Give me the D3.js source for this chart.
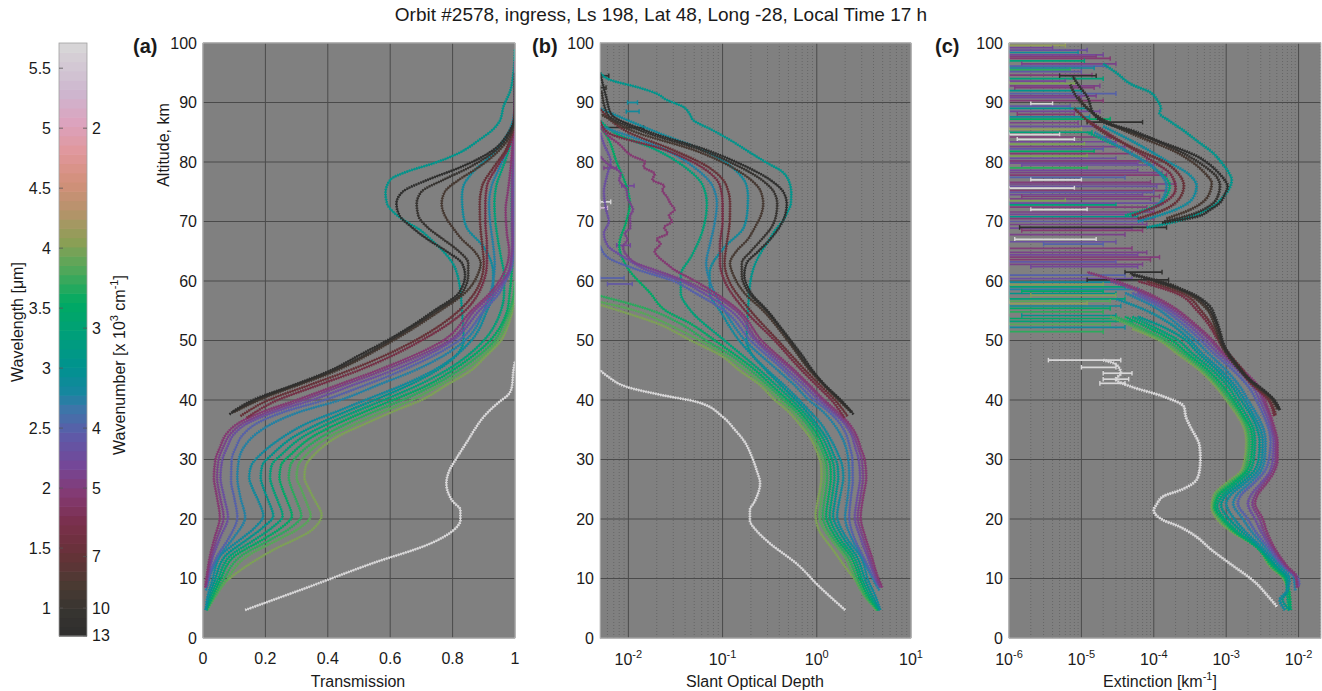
<!DOCTYPE html>
<html><head><meta charset="utf-8">
<script src="https://cdn.jsdelivr.net/npm/d3@7/dist/d3.min.js"></script>
<style>
body{margin:0;background:#fff;}
text{font-family:"Liberation Sans",Arial,Helvetica,sans-serif;fill:#1a1a1a;}
</style>
</head><body>
<svg id="chart" width="1322" height="691"></svg>
<script>
// ---------------- DATA ----------------
const titleText = "Orbit #2578, ingress, Ls 198, Lat 48, Long -28, Local Time 17 h";
const altitudeTicks = [0,10,20,30,40,50,60,70,80,90,100];
const transmissionTicks = [0,0.2,0.4,0.6,0.8,1];
const sodTickExponents = [-2,-1,0,1];
const extinctionTickExponents = [-6,-5,-4,-3,-2];
const wavelengthTicks = [1,1.5,2,2.5,3,3.5,4,4.5,5,5.5];
const wavenumberTicks = [2,3,4,5,7,10,13];

// colormap of the colorbar (wavelength in micron -> colour)
const cmapWavelength = [0.767,1.0,1.2,1.45,1.7,1.95,2.2,2.45,2.65,2.8,3.0,3.3,3.55,3.8,4.05,4.3,4.55,4.8,5.05,5.3,5.71];
const cmapColor = ["#2e2e2e","#383531","#4b3a32","#663238","#792f4a","#843a72","#744799","#5d5ba8","#3f74aa","#17869f","#00928f","#00a078","#00aa62","#4aa85a","#8a9f55","#b4936a","#d2907a","#e0979b","#dca3be","#cdb6cf","#d8d8d8"];

// one wavelength per channel
const wavelength = [0.80,0.95,1.15,1.45,1.65,1.95,2.1,2.3,2.5,2.75,2.85,3.05,3.3,3.5,3.7,3.85,4.0,5.7];

// panel (a): [altitude km, transmission]
const transmission = [
 [[37.6,0.085],[40,0.16],[42.5,0.29],[45,0.41],[47.5,0.5],[50,0.59],[52.5,0.67],[55,0.74],[58,0.82],[61,0.84],[63,0.83],[65,0.78],[67,0.72],[69,0.67],[71,0.63],[73,0.62],[75,0.64],[77,0.72],[79,0.82],[82,0.93],[85,0.98],[88,1.0],[95,1.0]],
 [[38,0.095],[40,0.17],[45,0.42],[50,0.6],[55,0.75],[58,0.83],[61,0.85],[63,0.85],[65,0.82],[67,0.77],[69,0.72],[71,0.69],[73,0.685],[75,0.7],[77,0.77],[79,0.85],[82,0.94],[85,0.985],[88,1.0],[94,1.0]],
 [[38,0.1],[40,0.18],[45,0.43],[50,0.61],[55,0.76],[58,0.84],[61,0.88],[63,0.89],[65,0.87],[67,0.83],[69,0.8],[71,0.775],[73,0.765],[75,0.775],[77,0.82],[79,0.88],[82,0.95],[85,0.99],[88,1.0],[93,1.0]],
 [[37.3,0.12],[40,0.21],[42.5,0.34],[45,0.47],[50,0.68],[55,0.82],[60,0.89],[63,0.9],[66,0.895],[70,0.888],[73,0.887],[76,0.895],[79,0.93],[82,0.97],[85,0.99],[89,1.0]],
 [[37,0.14],[40,0.24],[42.5,0.37],[45,0.5],[50,0.7],[55,0.84],[60,0.9],[63,0.91],[66,0.91],[70,0.905],[73,0.905],[76,0.91],[79,0.94],[82,0.975],[85,0.995],[88,1.0]],
 [[8.5,0.007],[10,0.011],[13.7,0.022],[17,0.038],[20.3,0.054],[23.6,0.045],[27,0.035],[30,0.04],[32,0.054],[34.3,0.075],[36,0.11],[38,0.19],[40,0.3],[42.5,0.43],[45,0.56],[50,0.77],[55,0.86],[58,0.92],[60,0.95],[62,0.97],[65,0.981],[68,0.974],[72,0.97],[75,0.977],[79,0.986],[83,0.992],[86,0.995],[92,1.0],[97,1.0]],
 [[8.5,0.009],[10,0.013],[13.7,0.027],[17,0.046],[20.3,0.066],[23.6,0.055],[27,0.045],[30,0.05],[32,0.064],[34.3,0.088],[36,0.125],[38,0.21],[40,0.32],[42.5,0.45],[45,0.58],[50,0.79],[55,0.87],[58,0.93],[60,0.96],[62,0.982],[64,0.988],[66,0.991],[70,0.99],[73,0.99],[76,0.99],[80,0.994],[84,0.998],[90,1.0]],
 [[8.7,0.01],[10,0.015],[13.7,0.032],[17,0.056],[20.3,0.08],[23.6,0.068],[27,0.056],[30,0.062],[32,0.077],[34.3,0.1],[36,0.14],[38,0.23],[40,0.35],[42.5,0.48],[45,0.61],[50,0.8],[55,0.885],[58,0.94],[60,0.965],[62,0.985],[64,0.991],[66,0.994],[70,0.994],[75,0.994],[80,0.995],[85,0.997],[92,1.0]],
 [[9,0.012],[10,0.017],[13.7,0.045],[17,0.085],[20.3,0.11],[23.6,0.1],[26.4,0.09],[30,0.092],[32,0.105],[34.3,0.13],[36,0.17],[38,0.26],[40,0.39],[42.5,0.52],[45,0.64],[50,0.82],[55,0.9],[58,0.95],[60,0.97],[62,0.988],[64,0.994],[66,0.995],[75,0.995],[85,0.998],[95,1.0]],
 [[8,0.01],[10,0.02],[13.7,0.05],[17,0.1],[20.3,0.135],[23.6,0.12],[27,0.11],[30,0.115],[32,0.13],[34.3,0.17],[36,0.22],[38,0.31],[40,0.44],[42.5,0.56],[45,0.68],[50,0.84],[55,0.9],[60,0.93],[63,0.935],[66,0.93],[70,0.92],[73,0.917],[76,0.925],[79,0.95],[82,0.975],[86,0.995],[90,1.0]],
 [[4.7,0.009],[7,0.015],[9.7,0.03],[13.7,0.054],[16.5,0.118],[18.5,0.165],[20.5,0.193],[23,0.178],[25,0.16],[27,0.148],[29,0.155],[31,0.188],[33.8,0.257],[36,0.33],[38.3,0.44],[40,0.52],[42.5,0.64],[45,0.74],[50,0.86],[55,0.91],[58,0.93],[61.3,0.93],[65.7,0.9],[69,0.845],[72,0.832],[74.2,0.83],[76,0.835],[78,0.86],[81.5,0.93],[85,0.98],[89,1.0]],
 [[4.7,0.009],[7,0.02],[9.7,0.038],[13.7,0.07],[16.5,0.14],[18.5,0.19],[20.5,0.225],[23,0.21],[25,0.195],[27,0.185],[29,0.19],[31,0.225],[33.8,0.29],[36,0.37],[38.3,0.47],[40,0.55],[42.5,0.66],[45,0.75],[48,0.82],[50,0.835],[55,0.83],[60,0.82],[63,0.8],[65,0.77],[67,0.73],[68.6,0.695],[70,0.65],[71.6,0.61],[73,0.59],[74.8,0.585],[77,0.6],[78.5,0.66],[79.8,0.74],[81.5,0.82],[83.7,0.885],[85.5,0.93],[87,0.952],[89.3,0.963],[92,0.985],[95,0.995],[99,1.0]],
 [[4.7,0.01],[7,0.025],[9.7,0.047],[13.7,0.085],[16.5,0.165],[18.5,0.22],[20.5,0.255],[23,0.24],[25,0.225],[27,0.215],[29,0.22],[31,0.255],[33.8,0.32],[36,0.4],[38.3,0.5],[40,0.58],[42.5,0.69],[45,0.78],[50,0.9],[55,0.955],[58,0.965],[61,0.965],[64,0.955],[67,0.945],[70,0.937],[73,0.934],[76,0.94],[79,0.96],[82,0.98],[85,0.993],[88,1.0]],
 [[4.7,0.011],[7,0.03],[9.7,0.055],[13.7,0.1],[16.5,0.19],[18.5,0.25],[20.5,0.285],[23,0.27],[25,0.255],[27,0.245],[29,0.25],[31,0.285],[33.8,0.35],[36,0.43],[38.3,0.53],[40,0.61],[42.5,0.72],[45,0.8],[50,0.92],[55,0.975],[58,0.983],[62,0.99],[66,0.992],[70,0.9905],[73,0.9896],[76,0.9905],[80,0.9925],[84.4,0.994],[88,1.0]],
 [[4.7,0.012],[7,0.035],[9.7,0.065],[13.7,0.12],[16.5,0.215],[18.5,0.28],[20.5,0.315],[23,0.3],[25,0.285],[27,0.275],[29,0.28],[31,0.31],[33.8,0.38],[36,0.46],[38.3,0.56],[40,0.64],[42.5,0.74],[45,0.82],[47.3,0.88],[50,0.935],[52.9,0.965],[55,0.982],[57.5,0.995],[60,1.0]],
 [[4.7,0.013],[7,0.04],[9.7,0.075],[13.7,0.14],[16.5,0.24],[18.5,0.31],[20.5,0.345],[23,0.33],[25,0.315],[27,0.3],[29,0.305],[31,0.335],[33.8,0.405],[36,0.49],[38.3,0.59],[40,0.67],[42.5,0.76],[45,0.84],[47.3,0.895],[50,0.945],[52.9,0.975],[55,0.988],[57,0.995],[60,1.0]],
 [[4.7,0.014],[8,0.044],[11.4,0.12],[14.8,0.225],[18.2,0.35],[20.7,0.38],[23,0.36],[25,0.34],[27,0.325],[29,0.33],[31,0.36],[33.8,0.43],[36,0.52],[38.3,0.62],[40,0.7],[42.5,0.78],[45,0.86],[47.3,0.905],[50,0.955],[52.9,0.98],[55,0.992],[57,0.997],[60,1.0]],
 [[4.7,0.135],[8.6,0.34],[12.5,0.54],[15.9,0.73],[18,0.8],[19.8,0.825],[21.5,0.825],[23,0.8],[26,0.78],[28.2,0.79],[30,0.81],[33.3,0.85],[35,0.87],[37.2,0.9],[39.7,0.95],[40.8,0.977],[42.2,0.99],[45,0.995],[46.5,1.0]]
];

// panel (b): [altitude km, slant optical depth]
const slantOpticalDepth = [
 [[37.6,2.45],[40,1.8],[42.5,1.22],[45,0.9],[47.5,0.7],[50,0.53],[52.5,0.4],[55,0.3],[58,0.2],[61,0.17],[63,0.18],[65,0.24],[67,0.32],[69,0.4],[71,0.46],[73,0.48],[75,0.44],[77,0.32],[79,0.19],[82,0.068],[85,0.017],[88,0.0066],[91,0.0058],[95,0.005]],
 [[38,2.35],[40,1.75],[45,0.87],[50,0.51],[55,0.29],[58,0.19],[61,0.16],[63,0.16],[65,0.2],[67,0.26],[69,0.33],[71,0.37],[73,0.38],[75,0.35],[77,0.26],[79,0.16],[82,0.06],[85,0.015],[88,0.006],[92,0.0052]],
 [[38,2.3],[40,1.7],[45,0.84],[50,0.49],[55,0.27],[58,0.17],[61,0.13],[63,0.12],[65,0.14],[67,0.185],[69,0.22],[71,0.255],[73,0.27],[75,0.255],[77,0.2],[79,0.13],[82,0.05],[85,0.012],[88,0.0052]],
 [[37.3,2.12],[40,1.56],[42.5,1.08],[45,0.755],[50,0.386],[55,0.198],[60,0.117],[63,0.105],[66,0.11],[70,0.119],[73,0.12],[76,0.11],[79,0.073],[82,0.03],[85,0.01],[89,0.005]],
 [[37,1.97],[40,1.43],[42.5,0.99],[45,0.69],[50,0.357],[55,0.174],[60,0.105],[63,0.094],[66,0.094],[70,0.1],[73,0.1],[76,0.094],[79,0.062],[82,0.025],[85,0.006],[87,0.005]],
 [[8.5,4.96],[10,4.51],[13.7,3.82],[17,3.27],[20.3,2.92],[23.6,3.1],[27,3.35],[30,3.22],[32,2.92],[34.3,2.59],[36,2.21],[38,1.66],[40,1.2],[42.5,0.84],[45,0.58],[50,0.26],[55,0.15],[58,0.083],[60,0.051],[62,0.03],[63,0.025],[64,0.021],[65,0.019],[66.3,0.022],[67,0.02],[68,0.026],[69,0.024],[70,0.029],[71,0.027],[72,0.031],[73,0.028],[74,0.026],[75.3,0.023],[76,0.024],[77,0.018],[78,0.019],[79.2,0.0145],[80,0.015],[81,0.011],[83,0.008],[84.5,0.006],[86,0.005]],
 [[8.5,4.71],[10,4.34],[13.7,3.61],[17,3.08],[20.3,2.72],[23.6,2.9],[27,3.1],[30,3.0],[32,2.75],[34.3,2.43],[36,2.08],[38,1.56],[40,1.14],[42.5,0.8],[45,0.545],[50,0.236],[55,0.139],[58,0.073],[60,0.04],[62,0.018],[63,0.012],[64,0.01],[65.8,0.0088],[67,0.0098],[68,0.0092],[69,0.0105],[70.8,0.0104],[72,0.0112],[73,0.0105],[74,0.0098],[75.3,0.0096],[77,0.008],[78,0.0083],[79.8,0.0059],[81,0.005]],
 [[8.7,4.61],[10,4.2],[13.7,3.44],[17,2.88],[20.3,2.53],[23.6,2.69],[27,2.88],[30,2.78],[32,2.56],[34.3,2.3],[36,1.97],[38,1.47],[40,1.05],[42.5,0.73],[45,0.49],[50,0.223],[55,0.122],[58,0.062],[60,0.036],[62,0.015],[64,0.009],[66,0.006],[68,0.0055],[70,0.0062],[72,0.0058],[75,0.0055],[78,0.006],[80,0.0065],[83,0.0055],[85,0.005]],
 [[9,4.42],[10,4.07],[13.7,3.1],[17,2.47],[20.3,2.21],[23.6,2.3],[26.4,2.41],[30,2.39],[32,2.25],[34.3,2.04],[36,1.77],[38,1.35],[40,0.94],[42.5,0.65],[45,0.446],[50,0.198],[55,0.105],[58,0.051],[60,0.03],[62,0.012],[64,0.006],[66,0.005]],
 [[8,4.61],[10,3.91],[13.7,3.0],[17,2.3],[20.3,2.0],[23.6,2.12],[27,2.21],[30,2.16],[32,2.04],[34.3,1.77],[36,1.51],[38,1.17],[40,0.82],[42.5,0.58],[45,0.386],[50,0.174],[55,0.105],[60,0.073],[63,0.067],[66,0.073],[70,0.083],[73,0.087],[76,0.078],[79,0.051],[82,0.025],[86,0.005]],
 [[4.7,4.71],[7,4.2],[9.7,3.51],[13.7,2.92],[16.5,2.14],[18.5,1.8],[20.5,1.645],[23,1.73],[25,1.83],[27,1.91],[29,1.86],[31,1.67],[33.8,1.36],[36,1.11],[38.3,0.82],[40,0.65],[42.5,0.45],[45,0.3],[50,0.15],[55,0.094],[58,0.073],[61.3,0.073],[65.7,0.105],[69,0.168],[72,0.184],[74.2,0.186],[76,0.18],[78,0.15],[81.5,0.073],[85,0.02],[89,0.005]],
 [[4.7,4.71],[7,3.91],[9.7,3.27],[13.7,2.66],[16.5,1.97],[18.5,1.66],[20.5,1.49],[23,1.56],[25,1.63],[27,1.69],[29,1.66],[31,1.49],[33.8,1.24],[36,0.99],[38.3,0.755],[40,0.6],[42.5,0.415],[45,0.29],[48,0.198],[50,0.18],[55,0.186],[60,0.198],[63,0.223],[65,0.26],[67,0.315],[68.6,0.364],[70,0.43],[71.6,0.49],[73,0.53],[74.8,0.536],[77,0.5],[78.5,0.42],[79.8,0.3],[81.5,0.2],[83.7,0.12],[85.5,0.075],[87,0.049],[88,0.045],[89.3,0.038],[90.5,0.025],[91.5,0.02],[92.5,0.013],[93.8,0.0064],[95,0.005]],
 [[4.7,4.61],[7,3.69],[9.7,3.06],[13.7,2.46],[16.5,1.8],[18.5,1.51],[20.5,1.37],[23,1.43],[25,1.49],[27,1.54],[29,1.51],[31,1.37],[33.8,1.14],[36,0.92],[38.3,0.69],[40,0.545],[42.5,0.37],[45,0.25],[50,0.105],[55,0.046],[58,0.036],[61,0.036],[64,0.046],[67,0.057],[70,0.065],[73,0.068],[76,0.062],[79,0.041],[82,0.02],[85,0.007],[87,0.005]],
 [[4.7,4.51],[7,3.51],[9.7,2.9],[13.7,2.3],[16.5,1.66],[18.5,1.39],[20.5,1.255],[23,1.31],[25,1.37],[27,1.41],[29,1.39],[31,1.255],[33.8,1.05],[36,0.84],[38.3,0.635],[40,0.49],[42.5,0.33],[45,0.223],[50,0.083],[52.9,0.045],[55,0.025],[58,0.017],[62,0.01],[66,0.008],[70,0.0095],[73,0.0104],[76,0.0095],[80,0.0075],[84.4,0.0059],[86,0.005]],
 [[4.7,4.42],[7,3.35],[9.7,2.73],[13.7,2.12],[16.5,1.54],[18.5,1.27],[20.5,1.155],[23,1.2],[25,1.255],[27,1.29],[29,1.27],[31,1.17],[33.8,0.97],[36,0.78],[38.3,0.58],[40,0.446],[42.5,0.3],[45,0.198],[47.3,0.128],[50,0.067],[52.9,0.035],[55,0.018],[57.5,0.005]],
 [[4.7,4.34],[7,3.22],[9.7,2.59],[13.7,1.97],[16.5,1.43],[18.5,1.17],[20.5,1.065],[23,1.11],[25,1.155],[27,1.2],[29,1.19],[31,1.09],[33.8,0.9],[36,0.71],[38.3,0.53],[40,0.4],[42.5,0.274],[45,0.174],[47.3,0.111],[50,0.057],[52.9,0.025],[55,0.012],[56.5,0.005]],
 [[4.7,4.27],[8,3.12],[11.4,2.12],[14.8,1.49],[18.2,1.05],[20.7,0.97],[23,1.02],[25,1.08],[27,1.12],[29,1.11],[31,1.02],[33.8,0.84],[36,0.65],[38.3,0.48],[40,0.357],[42.5,0.25],[45,0.15],[47.3,0.1],[50,0.046],[52.9,0.02],[55,0.008],[56,0.005]],
 [[4.7,2.0],[8.6,1.07],[12.5,0.61],[15.9,0.318],[18,0.23],[19.8,0.195],[21.5,0.195],[23,0.22],[26,0.25],[28.2,0.23],[30,0.21],[33.3,0.166],[35,0.135],[37.2,0.1],[39.7,0.053],[40.8,0.023],[42.2,0.0096],[44,0.006],[45,0.005]]
];

// panel (c): [altitude km, extinction km^-1]; null = gap
const extinction = [
 [[38.3,5.5e-3],[40,4.6e-3],[41.5,3.4e-3],[43.4,2.1e-3],[46,1.4e-3],[49,9.5e-4],[52,8e-4],[54,7e-4],[55.7,6e-4],[57,4.5e-4],[58,3.2e-4],[59.6,1.35e-4],[61.3,4.7e-5],null,[69.8,1.3e-4],[70.8,3.9e-4],[72,6e-4],[73.1,8.1e-4],[74.5,9.5e-4],[75.9,1.05e-3],[77,9.5e-4],[78,8.1e-4],[79.5,6e-4],[81,3.9e-4],[82,2.5e-4],[83.2,1.35e-4],[84.3,8e-5],[85.4,4.7e-5],[86.5,2.2e-5],[88,1.5e-5],[91,1.2e-5],[93,9e-6],[94.4,7.6e-6]],
 [[38.5,5.3e-3],[40,4.5e-3],[43.5,2.1e-3],[46,1.35e-3],[49,9.2e-4],[52,7.6e-4],[55.5,5.6e-4],[57,4.2e-4],[58,3e-4],[60,1.2e-4],[61,5e-5],null,[70,1.4e-4],[71,3e-4],[73,6.5e-4],[74.5,7.8e-4],[76,8.2e-4],[77.5,7.4e-4],[79,5.4e-4],[81,3e-4],[83.5,1.1e-4],[86,3e-5],[89,1.2e-5],[93,7e-6]],
 [[38.5,5.1e-3],[40,4.3e-3],[43.5,2e-3],[46,1.3e-3],[49,8.8e-4],[52,7.2e-4],[55.5,5.2e-4],[58,2.8e-4],[60,1e-4],null,[70.5,1.5e-4],[72,3.2e-4],[73.5,5e-4],[75,6e-4],[76.5,6.3e-4],[78,5.2e-4],[80,3.4e-4],[82,1.8e-4],[84,7e-5],[87,2e-5],[91,9e-6]],
 [[37.5,4.8e-3],[40,4e-3],[43,2.2e-3],[45,1.7e-3],[48,1.05e-3],[50,8.2e-4],[53,6e-4],[55,4.5e-4],[58,2.4e-4],[60,8e-5],null,[70.5,6e-5],[72,1.4e-4],[74,2.3e-4],[76,2.6e-4],[78,2.2e-4],[80,1.4e-4],[82,6e-5],[85,2e-5],[89,8e-6]],
 [[37.3,4.6e-3],[40,3.8e-3],[43,2.1e-3],[45,1.6e-3],[48,1e-3],[50,7.8e-4],[53,5.5e-4],[55,4e-4],[58,2e-4],[60,6e-5],null,[71,5e-5],[73,1.3e-4],[75.5,2e-4],[78,1.7e-4],[80,1e-4],[83,4e-5],[87,1.2e-5]],
 [[8.5,9.5e-3],[10.3,9.3e-3],[12,7e-3],[15.4,4.5e-3],[18,3.6e-3],[20,3.2e-3],[22.6,2.5e-3],[24,2.7e-3],[26,3.6e-3],[28,4.6e-3],[30,5.1e-3],[33,5.1e-3],[35,4.7e-3],[37,4.2e-3],[40,3.4e-3],[42,2.9e-3],[45,1.7e-3],[48,9e-4],[50,6.5e-4],[53,3.5e-4],[55.7,1.8e-4],[58,8e-5],[60,3e-5],[61.5,1.2e-5]],
 [[8.5,9.8e-3],[10.3,9.2e-3],[12,6.8e-3],[15.4,4.3e-3],[18,3.3e-3],[20,2.9e-3],[22.6,2.3e-3],[24,2.5e-3],[26,3.3e-3],[28,4.3e-3],[30,4.8e-3],[33,4.8e-3],[35,4.4e-3],[37,4e-3],[40,3.2e-3],[42,2.7e-3],[45,1.6e-3],[48,8.5e-4],[50,6e-4],[53,3.2e-4],[55.7,1.6e-4],[58,7e-5],[60,2.5e-5]],
 [[8.7,1e-2],[10.3,9e-3],[12,6.5e-3],[15.4,4e-3],[18,3e-3],[20,2.5e-3],[22.6,2e-3],[24,2.2e-3],[26,3e-3],[28,4e-3],[30,4.4e-3],[33,4.5e-3],[35,4.2e-3],[37,3.7e-3],[40,2.9e-3],[42,2.4e-3],[45,1.45e-3],[48,7.5e-4],[50,5.2e-4],[53,2.8e-4],[55.7,1.4e-4],[58,6e-5]],
 [[9,1.02e-2],[10.3,9.6e-3],[12,6.3e-3],[15.4,3.7e-3],[18,2.5e-3],[20,2e-3],[22.6,1.45e-3],[24,1.6e-3],[26,2.4e-3],[28,3.4e-3],[30,3.9e-3],[33,4.1e-3],[35,3.9e-3],[37,3.4e-3],[40,2.6e-3],[42,2.1e-3],[45,1.25e-3],[48,6.5e-4],[50,4.5e-4],[53,2.4e-4],[55.7,1.2e-4],[58,5e-5]],
 [[8,9e-3],[10.3,8.5e-3],[12,6e-3],[15.4,3.4e-3],[18,2.2e-3],[20,1.7e-3],[22.6,1.25e-3],[24,1.4e-3],[26,2.1e-3],[28,3e-3],[30,3.4e-3],[33,3.5e-3],[35,3.3e-3],[37,2.8e-3],[40,2e-3],[42,1.6e-3],[45,1e-3],[48,5.5e-4],[50,3.8e-4],[53,2e-4],[55.7,1e-4],[58,4e-5],null,[71,5e-5],[73,1.2e-4],[76,1.5e-4],[79,1e-4],[82,4e-5],[85,1.5e-5]],
 [[4.7,6.5e-3],[6.4,5.5e-3],[8,7e-3],[10,7.5e-3],[12,5.5e-3],[15.4,3e-3],[18,1.8e-3],[20,1.3e-3],[22.6,1e-3],[24,1.15e-3],[26,1.8e-3],[28,2.7e-3],[30,3.1e-3],[33,3.2e-3],[35,3e-3],[37,2.5e-3],[40,1.8e-3],[42,1.4e-3],[45,8.5e-4],[48,4.5e-4],[50,3.2e-4],[53,1.6e-4],[55,8e-5],[57,3e-5],null,[70,6e-5],[72,2e-4],[74,3.5e-4],[76,3.9e-4],[78,3e-4],[80,1.6e-4],[83,6e-5],[86,2e-5]],
 [[4.7,7.5e-3],[6.5,6e-3],[8,7e-3],[10,7e-3],[12,5e-3],[15.4,2.8e-3],[18,1.6e-3],[20,1.1e-3],[22.3,8.5e-4],[24,1e-3],[26,1.6e-3],[28,2.4e-3],[30,2.8e-3],[33,2.9e-3],[35,2.7e-3],[37,2.3e-3],[40,1.6e-3],[42,1.25e-3],[45,7.5e-4],[48,4e-4],[50,2.8e-4],[52,1.5e-4],[54,6e-5],null,[69,8e-5],[70,2e-4],[70.8,3.2e-4],[72.5,6.5e-4],[74.2,9.2e-4],[75.5,1.1e-3],[77,1.19e-3],[78.5,1.05e-3],[80,8.5e-4],[81.5,6.6e-4],[83.5,4e-4],[85.4,2.5e-4],[87,1.6e-4],[88.2,1.2e-4],[89,1.25e-4],[90.5,1.1e-4],[91.7,9e-5],[93,5e-5],[94.9,3.1e-5],[96.5,2e-5]],
 [[4.7,7.5e-3],[7,7e-3],[10,6.8e-3],[12,4.8e-3],[15.4,2.6e-3],[18,1.4e-3],[20,9.5e-4],[22.2,7.5e-4],[24,9e-4],[26,1.4e-3],[28,2.1e-3],[30,2.4e-3],[33,2.5e-3],[35,2.4e-3],[37,2e-3],[40,1.4e-3],[42,1.1e-3],[45,6.5e-4],[48,3.3e-4],[50,2.2e-4],[52,1.1e-4],[54,5e-5],null,[71,4e-5],[73,1.2e-4],[76,1.66e-4],[79,1e-4],[82,4e-5],[85,1.2e-5]],
 [[4.7,7.8e-3],[7,7.5e-3],[10,6.6e-3],[12,4.5e-3],[15.4,2.6e-3],[18,1.3e-3],[20,9e-4],[22,7e-4],[24,8e-4],[26,1.25e-3],[28,1.9e-3],[30,2.2e-3],[33,2.3e-3],[35,2.2e-3],[37,1.8e-3],[40,1.25e-3],[42,9.5e-4],[45,5.6e-4],[48,2.8e-4],[50,1.8e-4],[52,9e-5],[54,4e-5]],
 [[4.7,7.5e-3],[7,7.5e-3],[10,6.4e-3],[12,4.3e-3],[15.4,2.6e-3],[18,1.25e-3],[20,8.5e-4],[22,6.8e-4],[24,7.5e-4],[26,1.15e-3],[28,1.8e-3],[30,2e-3],[33,2.1e-3],[35,2e-3],[37,1.7e-3],[40,1.15e-3],[42,8.5e-4],[45,5e-4],[48,2.5e-4],[50,1.5e-4],[52,7e-5],[54,3e-5]],
 [[4.7,7e-3],[7,7.5e-3],[10,6.3e-3],[12,4.2e-3],[15.4,2.6e-3],[18,1.2e-3],[20,8e-4],[22,6.6e-4],[24,7e-4],[26,1.05e-3],[28,1.7e-3],[30,1.9e-3],[33,2e-3],[35,1.9e-3],[37,1.6e-3],[40,1.05e-3],[42,8e-4],[45,4.6e-4],[48,2.2e-4],[50,1.3e-4],[52,6e-5],[54,2.5e-5]],
 [[4.7,7e-3],[7,7.2e-3],[10,6.2e-3],[12,4.1e-3],[15.4,2.6e-3],[18,1.15e-3],[20,7.5e-4],[22,6.3e-4],[24,6.8e-4],[26,1e-3],[28,1.6e-3],[30,1.8e-3],[33,1.9e-3],[35,1.8e-3],[37,1.5e-3],[40,1e-3],[42,7.5e-4],[45,4.3e-4],[48,2e-4],[50,1.2e-4],[52,5e-5]],
 [[5.3,5e-3],[7,3.8e-3],[9.2,2.6e-3],[12.6,1.1e-3],[15,6e-4],[17,3.9e-4],[19,2e-4],[19.8,1.35e-4],[21.5,1e-4],[22.5,1.1e-4],[23.8,1.35e-4],[25,2.5e-4],[26.6,3.9e-4],[28.3,4.3e-4],[30,4.4e-4],[32.2,4.3e-4],[35.5,3.2e-4],[37,2.8e-4],[38.9,2.6e-4],[40.6,1.35e-4],[42.2,5e-5],[43.5,3e-5],[44.5,3.5e-5],[46,3e-5],[46.7,2e-5]]
];

// noisy horizontal error bars: [altitude, low, high, wavelength]
const errorBarsB = [
 [85.8,0.005,0.0145,0.8],[94.5,0.005,0.0062,0.8],[92.5,0.005,0.0058,0.95],[73.3,0.005,0.0065,5.7],[72.3,0.005,0.006,5.3],[88.5,0.0095,0.013,2.85],[90,0.0098,0.0125,2.85],[60.5,0.005,0.009,2.5],[59.5,0.006,0.011,2.4],[79,0.0055,0.0075,2.1],[76,0.0085,0.0115,2.2],[66,0.0075,0.0105,2.2]
];
const errorBarsC = [
 [99.6,1e-6,6e-6,4.1],[99.2,1e-6,4e-6,2.2],[98.8,1e-6,1.2e-5,2.3],[98.4,1e-6,9e-6,2.85],[98.0,1e-6,2e-5,2.2],[97.7,1e-6,1.6e-5,2.0],[97.4,1e-6,2.5e-5,1.95],[97.0,1e-6,1.1e-5,3.3],[96.5,1.5e-6,3e-5,2.1],[96.1,1e-6,2.2e-5,2.5],[95.8,1e-6,1.5e-5,2.85],[95.5,1e-6,7e-6,3.7],[95.2,1e-6,1e-5,2.4],[94.6,1e-6,1.4e-5,2.0],[94.0,1e-6,2e-5,3.3],[93.6,1e-6,6e-6,2.2],[93.2,1e-6,8e-6,4.0],[92.8,1e-6,1.8e-5,2.1],[92.5,1.2e-6,1.5e-5,2.0],[92.0,1e-6,1e-5,3.05],[91.5,1e-6,3e-5,2.5],[91.1,1e-6,1.6e-5,2.1],[90.8,1e-6,1e-5,2.2],[90.3,1e-6,2e-5,1.95],[89.8,2e-6,4e-6,5.7],[89.4,1e-6,7e-6,2.4],[89.0,1e-6,1.2e-5,3.0],[88.5,1e-6,1.8e-5,2.2],[88.0,1.3e-6,8e-6,1.95],[87.6,1e-6,1.3e-5,2.85],[87.2,1e-6,2.5e-5,3.5],[86.6,1e-6,9e-6,2.1],[86.0,1e-6,1.6e-5,2.3],[85.5,1e-6,1e-5,4.1],[85.0,1e-6,1.4e-5,3.3],[84.6,1e-6,5e-6,5.7],[84.2,1e-6,2.5e-5,2.0],[83.8,1.3e-6,8e-6,5.7],[83.4,1e-6,3e-5,2.2],[83.0,1e-6,1.1e-5,4.0],[82.6,1e-6,4e-5,2.1],[82.2,1e-6,2e-5,2.4],[81.8,1e-6,1.5e-5,3.5],[81.4,1e-6,5e-5,1.95],[81.0,1e-6,1.2e-5,4.0],[80.6,1e-6,3e-5,2.3],[80.2,1e-6,8e-5,2.0],[79.8,1e-6,6e-5,2.2],[79.5,1.5e-6,1e-4,2.3],[79.0,1e-6,1.2e-5,3.7],[78.6,1e-6,6e-5,2.2],[78.2,1e-6,1.3e-4,2.1],[77.8,1e-6,1.5e-4,1.95],[77.4,1e-6,4e-5,2.5],[77.0,2e-6,1e-5,5.7],[76.6,1e-6,9e-5,2.0],[76.3,1e-6,2e-4,2.1],[75.9,1e-6,1.1e-4,2.3],[75.6,1e-6,8e-6,5.7],[75.2,1e-6,1.5e-4,1.95],[74.9,1e-6,1e-4,2.4],[74.5,1e-6,7e-5,2.2],[74.2,1.5e-6,1.2e-4,2.0],[73.8,1e-6,9e-5,2.1],[73.5,1e-6,6e-6,4.0],[73.1,1e-6,1.3e-4,2.3],[72.8,1e-6,3e-5,3.3],[72.4,1e-6,8e-5,2.0],[72.0,2e-6,1.2e-5,5.7],[71.6,1e-6,1e-4,2.1],[71.2,1e-6,5e-5,2.2],[70.8,1e-6,6e-5,3.05],[70.5,1e-6,1e-4,2.0],[70.0,1e-6,7e-5,2.4],[69.5,1e-6,8e-5,2.1],[68.9,1e-6,5e-5,2.2],[68.5,1.5e-6,7e-5,1.95],[67.8,1e-6,4e-5,2.1],[67.0,1.2e-6,1.6e-5,5.7],[66.6,1e-6,3e-5,2.3],[66.2,3e-6,2e-5,2.5],[65.5,1e-6,5e-5,2.0],[64.8,1e-6,8e-5,2.1],[64.4,1e-6,6e-5,2.2],[64.0,1e-6,1.2e-4,2.0],[63.6,1e-6,9e-5,1.95],[63.2,1e-6,3e-5,2.4],[62.8,1e-6,7e-5,2.1],[62.4,2e-6,6e-5,2.2],[61.0,1e-6,4e-5,2.5],[60.4,1e-6,5e-5,2.3],[59.8,1e-6,3e-5,2.85],[59.4,1e-6,2e-5,4.0],[59.0,1e-6,4e-5,3.3],[58.6,1e-6,6e-5,2.75],[58.3,1.5e-6,2e-5,3.5],[57.9,1e-6,3e-5,3.05],[57.6,2e-6,3e-5,4.0],[57.0,1e-6,4e-5,3.3],[56.6,1e-6,2.5e-5,3.85],[56.2,1e-6,1.2e-5,4.1],[55.8,1e-6,3.5e-5,2.85],[55.4,1e-6,2.5e-5,3.5],[54.8,1e-6,2e-5,3.7],[54.2,1.5e-6,3e-5,3.05],[53.7,1e-6,3e-5,3.5],[53.2,1e-6,5e-5,3.3],[52.7,1e-6,2.5e-5,3.85],[52.2,1e-6,4e-5,2.85],[51.5,1e-6,2e-5,3.7],
 [46.7,3.5e-6,3.5e-5,5.7],[45.5,1e-5,3e-5,5.7],[44.5,2e-5,5e-5,5.7],[43.5,2e-5,4.5e-5,5.7],[42.8,1.8e-5,4e-5,5.7],
 [69.0,1.4e-6,1.5e-4,0.8],[60.2,1.2e-5,1.6e-4,0.8],[61.5,4e-5,1.3e-4,0.8],[86.7,1.2e-5,7e-5,0.8],[94.5,5e-6,1.6e-5,0.8]
];

// ---------------- DRAWING ----------------
const svg = d3.select("#chart");
const color = d3.scaleLinear().domain(cmapWavelength).range(cmapColor).interpolate(d3.interpolateRgb).clamp(true);
const y = d3.scaleLinear().domain([0,100]).range([638,43]);
const FS = 16;

svg.append("text").attr("x",661).attr("y",21).attr("text-anchor","middle").style("font-size","19px").text(titleText);

const panels = [
 {id:"a", x: d3.scaleLinear().domain([0,1]).range([203,515]), data: transmission, bars: [], label:"(a)", lx:133, log:false},
 {id:"b", x: d3.scaleLog().domain([0.005,10]).range([600,911]), data: slantOpticalDepth, bars: errorBarsB, label:"(b)", lx:532, log:true},
 {id:"c", x: d3.scaleLog().domain([1e-6,0.0204]).range([1009,1321]), data: extinction, bars: errorBarsC, label:"(c)", lx:935, log:true}
];

panels.forEach(p => {
  const [x0,x1] = p.x.range();
  const g = svg.append("g");
  g.append("rect").attr("x",x0).attr("y",y(100)).attr("width",x1-x0).attr("height",y(0)-y(100)).attr("fill","#808080");
  g.append("clipPath").attr("id","clip"+p.id).append("rect").attr("x",x0).attr("y",y(100)).attr("width",x1-x0).attr("height",y(0)-y(100));
  if (p.log) {
    const [d0,d1] = p.x.domain();
    const minors = [];
    for (let e = Math.floor(Math.log10(d0)); e <= Math.ceil(Math.log10(d1)); e++) {
      for (let m = 2; m <= 9; m++) { const v = m*Math.pow(10,e); if (v > d0 && v < d1) minors.push(v); }
    }
    g.selectAll(".minor").data(minors).join("line")
      .attr("x1",d=>p.x(d)).attr("x2",d=>p.x(d)).attr("y1",y(100)).attr("y2",y(0))
      .attr("stroke","#606060").attr("stroke-width",0.8).attr("stroke-dasharray","1,2");
  }
  const majors = p.log ? (p.id==="b" ? sodTickExponents : extinctionTickExponents).map(e=>Math.pow(10,e)) : transmissionTicks;
  g.selectAll(".vmaj").data(majors).join("line")
    .attr("x1",d=>p.x(d)).attr("x2",d=>p.x(d)).attr("y1",y(100)).attr("y2",y(0))
    .attr("stroke","#4a4a4a").attr("stroke-width",1);
  g.selectAll(".hmaj").data(altitudeTicks).join("line")
    .attr("x1",x0).attr("x2",x1).attr("y1",d=>y(d)).attr("y2",d=>y(d))
    .attr("stroke","#4a4a4a").attr("stroke-width",1);

  const plot = g.append("g").attr("clip-path","url(#clip"+p.id+")");
  const lo = p.x.domain()[0];
  const line = d3.line().defined(d => d !== null)
     .x(d => p.x(Math.max(d[1], lo*0.9)))
     .y(d => y(d[0])).curve(d3.curveMonotoneY);
  // error bars
  plot.selectAll(".eb").data(p.bars).join("g").each(function(b){
    const s = d3.select(this);
    const c = color(b[3]);
    const xa = p.x(Math.max(b[1],lo)), xb = p.x(b[2]), yy = y(b[0]);
    s.append("line").attr("x1",xa).attr("x2",xb).attr("y1",yy).attr("y2",yy).attr("stroke",c).attr("stroke-width",1.7);
    [xa,xb].forEach(xx => s.append("line").attr("x1",xx).attr("x2",xx).attr("y1",yy-2.3).attr("y2",yy+2.3).attr("stroke",c).attr("stroke-width",1.4));
  });
  const order = d3.range(p.data.length).reverse();
  order.forEach(i => {
    const c = color(wavelength[i]);
    plot.append("path").datum(p.data[i]).attr("d", line)
      .attr("fill","none").attr("stroke", c).attr("stroke-width", 1.3);
    plot.append("path").datum(p.data[i]).attr("d", line)
      .attr("fill","none").attr("stroke", c)
      .attr("stroke-width", p.id==="c" ? 3.2 : 2.8)
      .attr("stroke-dasharray", "1.3,1.2");
  });

  g.append("rect").attr("x",x0).attr("y",y(100)).attr("width",x1-x0).attr("height",y(0)-y(100))
   .attr("fill","none").attr("stroke","#c8c8c8").attr("stroke-width",1);

  g.selectAll(".yl").data(altitudeTicks).join("text")
   .attr("x",x0-6).attr("y",d=>y(d)).attr("dy","0.36em").attr("text-anchor","end").style("font-size",FS+"px").text(d=>d);
  if (!p.log) {
    g.selectAll(".xl").data(transmissionTicks).join("text")
     .attr("x",d=>p.x(d)).attr("y",658).attr("dy","0.36em").attr("text-anchor","middle").style("font-size",FS+"px").text(d=>d);
  } else {
    const exps = p.id==="b" ? sodTickExponents : extinctionTickExponents;
    exps.forEach(e => {
      const t = g.append("text").attr("x",p.x(Math.pow(10,e))).attr("y",665).attr("text-anchor","middle").style("font-size",FS+"px");
      t.append("tspan").text("10");
      t.append("tspan").attr("dy",-7).style("font-size","11px").text(e);
    });
  }
  g.append("text").attr("x",p.lx).attr("y",53).style("font-size","20px").style("font-weight","bold").text(p.label);
});

// axis titles
svg.append("text").attr("x",358).attr("y",687).attr("text-anchor","middle").style("font-size",FS+"px").text("Transmission");
svg.append("text").attr("x",755).attr("y",687).attr("text-anchor","middle").style("font-size",FS+"px").text("Slant Optical Depth");
const et = svg.append("text").attr("x",1160).attr("y",687).attr("text-anchor","middle").style("font-size",FS+"px");
et.append("tspan").text("Extinction [km");
et.append("tspan").attr("dy",-7).style("font-size","11px").text("-1");
et.append("tspan").attr("dy",7).text("]");
svg.append("text").attr("transform","translate(169,145) rotate(-90)").attr("text-anchor","middle").style("font-size",FS+"px").text("Altitude, km");

// ---------------- COLORBAR ----------------
const cbX = 59, cbW = 28;
const cb = d3.scaleLinear().domain([0.767,5.71]).range([636,43]);
const nBands = 64;
const bandW = (5.71-0.767)/nBands;
const bands = d3.range(nBands).map(i => 0.767 + i*bandW);
svg.append("g").selectAll("rect").data(bands).join("rect")
  .attr("x",cbX).attr("width",cbW)
  .attr("y",d=>cb(d+bandW)).attr("height",d=>cb(d)-cb(d+bandW)+0.6)
  .attr("fill",d=>color(d+bandW/2));
svg.append("rect").attr("x",cbX).attr("y",43).attr("width",cbW).attr("height",593).attr("fill","none").attr("stroke","#a0a0a0").attr("stroke-width",0.8);
wavelengthTicks.forEach(w => {
  svg.append("line").attr("x1",cbX).attr("x2",cbX+4).attr("y1",cb(w)).attr("y2",cb(w)).attr("stroke","#555").attr("stroke-width",0.8);
  svg.append("text").attr("x",cbX-8).attr("y",cb(w)).attr("dy","0.36em").attr("text-anchor","end").style("font-size",FS+"px").text(w);
});
wavenumberTicks.forEach(n => {
  const yy = cb(10/n);
  svg.append("line").attr("x1",cbX+cbW-4).attr("x2",cbX+cbW).attr("y1",yy).attr("y2",yy).attr("stroke","#555").attr("stroke-width",0.8);
  svg.append("text").attr("x",cbX+cbW+5).attr("y",yy).attr("dy","0.36em").attr("text-anchor","start").style("font-size",FS+"px").text(n);
});
const wl = svg.append("text").attr("transform","translate(23,322) rotate(-90)").attr("text-anchor","middle").style("font-size",FS+"px");
wl.append("tspan").text("Wavelength [\u03bcm]");
const wn = svg.append("text").attr("transform","translate(125,365) rotate(-90)").attr("text-anchor","middle").style("font-size",FS+"px");
wn.append("tspan").text("Wavenumber [x 10");
wn.append("tspan").attr("dy",-7).style("font-size","11px").text("3");
wn.append("tspan").attr("dy",7).text(" cm");
wn.append("tspan").attr("dy",-7).style("font-size","11px").text("-1");
wn.append("tspan").attr("dy",7).text("]");
</script>
</body></html>
